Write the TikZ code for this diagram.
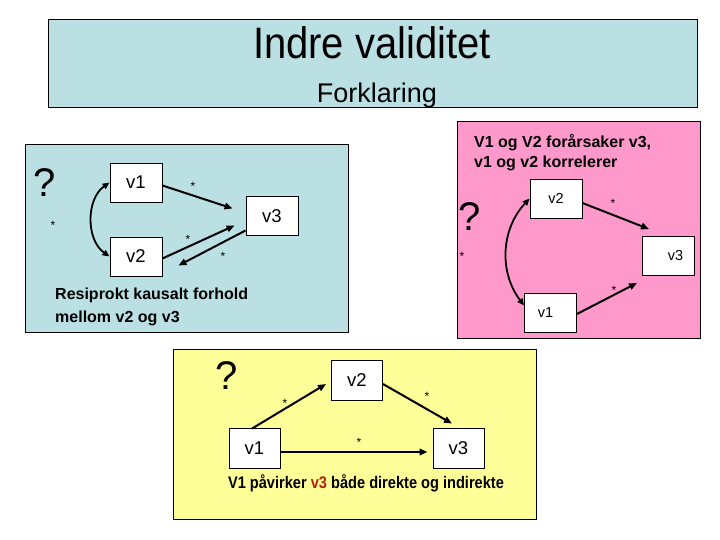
\documentclass[tikz,border=0pt]{standalone}
\usepackage{fontspec}
\setmainfont{Liberation Sans}
\usetikzlibrary{arrows.meta,calc}
\definecolor{bluebg}{RGB}{187,224,227}
\definecolor{pinkbg}{RGB}{255,153,204}
\definecolor{yellowbg}{RGB}{255,255,153}
\definecolor{darkred}{RGB}{185,30,15}
\tikzset{
 panel/.style={draw=black, line width=1pt},
 vbox/.style={draw=black, fill=white, line width=0.9pt, minimum width=52pt, minimum height=39pt, inner sep=0pt, font=\fontsize{18.5}{20}\selectfont},
 vsmall/.style={vbox, font=\fontsize{14.5}{15}\selectfont},
 arr/.style={line width=2pt, -{Triangle[length=8pt,width=6.5pt]}},
 darr/.style={line width=1.8pt, {Triangle[length=7pt,width=6pt]}-{Triangle[length=7pt,width=6pt]}},
 star/.style={font=\fontsize{12}{12}\selectfont, inner sep=0pt},
 qmark/.style={font=\fontsize{40}{44}\selectfont, inner sep=0pt},
 caption/.style={font=\fontsize{16}{21}\selectfont\bfseries, align=left, inner sep=0pt},
}
\begin{document}
\begin{tikzpicture}[x=1pt,y=-1pt]
\useasboundingbox (0,0) rectangle (720,540);
\fill[white] (0,0) rectangle (720,540);
% title panel
\draw[panel, fill=bluebg] (48,20) rectangle (697,108);
\node[font=\fontsize{40}{48}\selectfont, inner sep=0pt] (t1) at (372,43) {\scalebox{1}[1.1]{Indre validitet}};
\node[font=\fontsize{27}{32}\selectfont, inner sep=0pt] (t2) at (377,96) {Forklaring};

% blue panel
\draw[panel, fill=bluebg] (25,145) rectangle (348,332);
\node[qmark] (bq) at (45,183) {?};
\node[vbox] (b1) at (136,182.5) {v1};
\node[vbox] (b2) at (136,256.5) {v2};
\node[vbox] (b3) at (272,216) {v3};
\node[star] (bs0) at (53,225) {*};
\draw[arr] ($(b1.east)+(0,3)$) -- ($(b3.west)+(-13,-7.5)$);
\node[star] (bs1) at (193,186) {*};
\draw[arr] ($(b2.east)+(0,2)$) -- ($(b3.west)+(-11,9.5)$);
\node[star] (bs2) at (188,239) {*};
\draw[arr] ($(b3.west)+(0,14.5)$) -- ($(b2.east)+(16,9)$);
\node[star] (bs3) at (223,256) {*};
\draw[darr] (b1.west) to[bend right=55] (b2.west);
\node[caption, anchor=west, font=\fontsize{16}{23}\selectfont\bfseries] (bc) at (55,306.5) {Resiprokt kausalt forhold\\mellom v2 og v3};

% pink panel
\draw[panel, fill=pinkbg] (457,122) rectangle (700,338);
\node[caption, anchor=west, font=\fontsize{16}{20}\selectfont\bfseries] (pc) at (474,153) {V1 og V2 forårsaker v3,\\v1 og v2 korrelerer};
\node[qmark] (pq) at (470,217) {?};
\node[vsmall] (p2) at (556,198.5) {v2};
\node[vsmall] (p3) at (668.5,256) {\hspace*{14pt}v3};
\node[vsmall] (p1) at (550.5,312.5) {v1\hspace*{10pt}};
\node[star] (ps0) at (462,256) {*};
\draw[arr] ($(p2.east)+(0,4.5)$) -- ($(p3.north west)+(7,-7)$);
\node[star] (ps1) at (613,203) {*};
\draw[arr] ($(p1.east)+(0,1.5)$) -- ($(p3.south west)+(-5,7)$);
\node[star] (ps2) at (614,290) {*};
\draw[darr] (p2.west) to[bend right=40] ($(p1.west)+(0,-7)$);

% yellow panel
\draw[panel, fill=yellowbg] (173,349) rectangle (536,519);
\node[qmark] (yq) at (227,376) {?};
\node[vbox, minimum width=51pt, minimum height=40pt] (y2) at (357,380) {v2};
\node[vbox, minimum width=51pt, minimum height=40pt] (y1) at (254.5,448) {v1};
\node[vbox, minimum width=51pt, minimum height=40pt] (y3) at (458.5,448) {v3};
\draw[arr] ($(y1.north)+(-2.5,1)$) -- ($(y2.west)+(-5,4)$);
\node[star] (ys1) at (285,403) {*};
\draw[arr] ($(y2.east)+(0,4)$) -- ($(y3.north)+(-6.5,-4)$);
\node[star] (ys2) at (427,396) {*};
\draw[arr] ($(y1.east)+(0,4)$) -- ($(y3.west)+(-5,4)$);
\node[star] (ys3) at (359,442) {*};
\node[caption, font=\fontsize{14.6}{18}\selectfont\bfseries] (yc) at (366,483) {\scalebox{1}[1.15]{V1 påvirker \textcolor{darkred}{v3} både direkte og indirekte}};
\end{tikzpicture}
\end{document}
